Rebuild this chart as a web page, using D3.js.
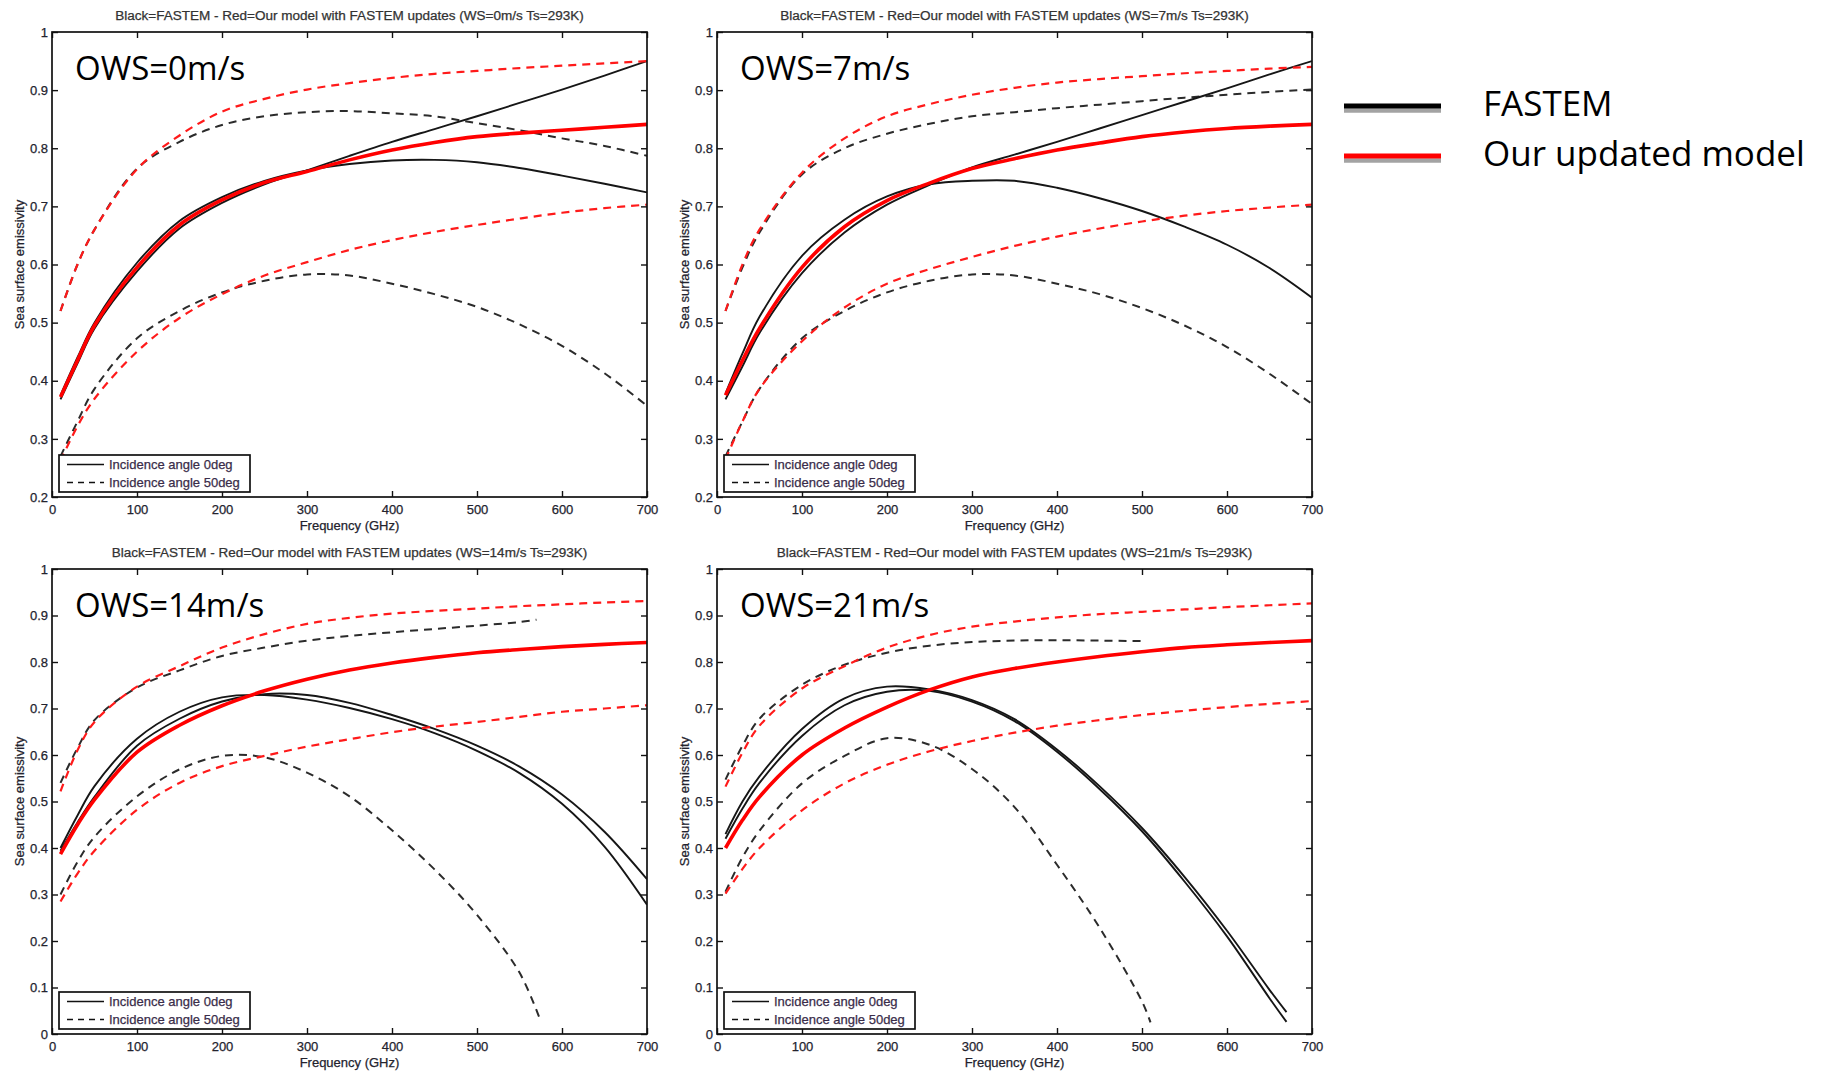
<!DOCTYPE html>
<html>
<head>
<meta charset="utf-8">
<script src="https://cdn.jsdelivr.net/npm/d3@7"></script>
<style>
  body { margin: 0; background: #fff; }
  svg { display: block; }
</style>
</head>
<body>
<svg></svg>
<script>
const size = {w: 1833, h: 1074};
const svg = d3.select('svg');

// frequency grid (GHz) that the curves were read on
const freq = [10, 30, 50, 100, 150, 200, 250, 300, 350, 400, 450, 500, 550, 600, 650, 700];
// some FASTEM curves stop early
const freq14V = [10, 30, 50, 100, 150, 200, 250, 300, 350, 400, 450, 500, 550, 570];
const freq14H = [10, 30, 50, 100, 150, 200, 250, 300, 350, 400, 450, 500, 550, 575];
const freq21S = [10, 30, 50, 100, 150, 200, 250, 300, 350, 400, 450, 500, 550, 600, 650, 670];
const freq21V = [10, 30, 50, 100, 150, 200, 250, 300, 350, 400, 450, 500];
const freq21H = [10, 30, 50, 100, 150, 200, 250, 300, 350, 400, 450, 500, 510];

const xTicks = [0, 100, 200, 300, 400, 500, 600, 700];
const yTicksTop = [0.2, 0.3, 0.4, 0.5, 0.6, 0.7, 0.8, 0.9, 1];
const yTicksBottom = [0, 0.1, 0.2, 0.3, 0.4, 0.5, 0.6, 0.7, 0.8, 0.9, 1];

// WS = 0 m/s
const ws0_fastem0A  = [0.368, 0.430, 0.490, 0.588, 0.662, 0.706, 0.738, 0.762, 0.787, 0.811, 0.833, 0.855, 0.878, 0.901, 0.925, 0.950];
const ws0_fastem0B  = [0.375, 0.440, 0.500, 0.603, 0.675, 0.716, 0.744, 0.762, 0.773, 0.779, 0.780, 0.776, 0.766, 0.753, 0.739, 0.724];
const ws0_model0    = [0.372, 0.435, 0.495, 0.595, 0.668, 0.711, 0.741, 0.760, 0.780, 0.797, 0.810, 0.820, 0.826, 0.831, 0.836, 0.841];
const ws0_fastem50V = [0.520, 0.600, 0.660, 0.765, 0.811, 0.840, 0.855, 0.862, 0.864, 0.860, 0.855, 0.843, 0.831, 0.817, 0.804, 0.787];
const ws0_model50V  = [0.520, 0.600, 0.660, 0.764, 0.822, 0.863, 0.885, 0.901, 0.912, 0.921, 0.928, 0.933, 0.938, 0.942, 0.946, 0.950];
const ws0_fastem50H = [0.270, 0.330, 0.386, 0.473, 0.520, 0.552, 0.572, 0.583, 0.581, 0.567, 0.549, 0.527, 0.497, 0.460, 0.413, 0.357];
const ws0_model50H  = [0.262, 0.322, 0.369, 0.450, 0.508, 0.549, 0.581, 0.604, 0.625, 0.642, 0.656, 0.668, 0.679, 0.689, 0.697, 0.703];

// WS = 7 m/s
const ws7_fastem0A  = [0.368, 0.425, 0.482, 0.585, 0.655, 0.703, 0.737, 0.767, 0.789, 0.811, 0.834, 0.857, 0.880, 0.903, 0.927, 0.950];
const ws7_fastem0B  = [0.378, 0.447, 0.510, 0.615, 0.677, 0.717, 0.738, 0.744, 0.744, 0.732, 0.714, 0.692, 0.665, 0.634, 0.594, 0.543];
const ws7_model0    = [0.375, 0.435, 0.490, 0.595, 0.665, 0.710, 0.740, 0.765, 0.782, 0.797, 0.809, 0.820, 0.828, 0.834, 0.838, 0.841];
const ws7_fastem50V = [0.520, 0.595, 0.655, 0.755, 0.800, 0.825, 0.842, 0.855, 0.862, 0.869, 0.875, 0.881, 0.887, 0.892, 0.897, 0.901];
const ws7_model50V  = [0.520, 0.600, 0.660, 0.758, 0.817, 0.855, 0.876, 0.892, 0.904, 0.913, 0.919, 0.924, 0.929, 0.933, 0.937, 0.940];
const ws7_fastem50H = [0.270, 0.330, 0.386, 0.473, 0.520, 0.552, 0.572, 0.583, 0.581, 0.567, 0.549, 0.525, 0.495, 0.458, 0.412, 0.360];
const ws7_model50H  = [0.265, 0.330, 0.386, 0.468, 0.526, 0.567, 0.592, 0.613, 0.632, 0.648, 0.662, 0.674, 0.684, 0.692, 0.698, 0.703];

// WS = 14 m/s
const ws14_fastem0A  = [0.400, 0.470, 0.533, 0.635, 0.693, 0.724, 0.729, 0.719, 0.701, 0.677, 0.647, 0.609, 0.561, 0.495, 0.403, 0.278];
const ws14_fastem0B  = [0.394, 0.455, 0.510, 0.620, 0.678, 0.715, 0.731, 0.729, 0.712, 0.686, 0.656, 0.620, 0.575, 0.515, 0.435, 0.333];
const ws14_model0    = [0.387, 0.450, 0.504, 0.606, 0.664, 0.706, 0.738, 0.763, 0.783, 0.798, 0.810, 0.820, 0.827, 0.833, 0.838, 0.842];
const ws14_fastem50V = [0.540, 0.615, 0.675, 0.745, 0.782, 0.813, 0.831, 0.846, 0.856, 0.864, 0.871, 0.878, 0.886, 0.891];
const ws14_model50V  = [0.522, 0.610, 0.671, 0.747, 0.791, 0.831, 0.860, 0.882, 0.895, 0.904, 0.910, 0.915, 0.920, 0.924, 0.928, 0.931];
const ws14_fastem50H = [0.300, 0.370, 0.424, 0.511, 0.569, 0.598, 0.595, 0.562, 0.511, 0.438, 0.354, 0.256, 0.132, 0.027];
const ws14_model50H  = [0.285, 0.345, 0.394, 0.482, 0.540, 0.576, 0.598, 0.618, 0.634, 0.649, 0.661, 0.671, 0.682, 0.693, 0.700, 0.707];

// WS = 21 m/s
const ws21_fastem0A  = [0.430, 0.500, 0.554, 0.656, 0.722, 0.747, 0.741, 0.718, 0.677, 0.612, 0.533, 0.443, 0.338, 0.222, 0.095, 0.047];
const ws21_fastem0B  = [0.420, 0.485, 0.540, 0.641, 0.707, 0.736, 0.738, 0.715, 0.673, 0.607, 0.527, 0.436, 0.328, 0.210, 0.077, 0.026];
const ws21_model0    = [0.400, 0.460, 0.510, 0.600, 0.658, 0.703, 0.740, 0.768, 0.786, 0.800, 0.812, 0.822, 0.831, 0.837, 0.842, 0.846];
const ws21_fastem50V = [0.547, 0.620, 0.678, 0.751, 0.794, 0.820, 0.835, 0.843, 0.846, 0.847, 0.846, 0.845];
const ws21_model50V  = [0.532, 0.605, 0.663, 0.743, 0.791, 0.831, 0.858, 0.876, 0.887, 0.896, 0.903, 0.908, 0.913, 0.918, 0.922, 0.926];
const ws21_fastem50H = [0.306, 0.380, 0.437, 0.539, 0.598, 0.636, 0.622, 0.570, 0.488, 0.364, 0.229, 0.070, 0.025];
const ws21_model50H  = [0.302, 0.355, 0.400, 0.481, 0.539, 0.579, 0.608, 0.630, 0.648, 0.663, 0.675, 0.686, 0.695, 0.703, 0.710, 0.716];

const windSpeeds = ['0', '7', '14', '21'];
const legendLabels = ['Incidence angle 0deg', 'Incidence angle 50deg'];
const modelNames = ['FASTEM', 'Our updated model'];

// line styles
const styles = {
    fastemDash:  {stroke: '#2b2b2b', width: 2,   dash: '8,6'},
    fastemSolid: {stroke: '#161616', width: 1.9, dash: null},
    modelDash:   {stroke: '#ff1a1a', width: 2.2, dash: '8,6'},
    modelSolid:  {stroke: '#ff0000', width: 3.6, dash: null}
};

const s = (x, y, kind) => ({x, y, kind});

// panel table built from the arrays above
const panels = [
    {ws: windSpeeds[0], left: 52,  top: 32,  yMin: 0.2, yTicks: yTicksTop, series: [
        s(freq, ws0_fastem50V, 'fastemDash'), s(freq, ws0_fastem50H, 'fastemDash'),
        s(freq, ws0_fastem0A, 'fastemSolid'), s(freq, ws0_fastem0B, 'fastemSolid'),
        s(freq, ws0_model50V, 'modelDash'), s(freq, ws0_model50H, 'modelDash'),
        s(freq, ws0_model0, 'modelSolid')]},
    {ws: windSpeeds[1], left: 717, top: 32,  yMin: 0.2, yTicks: yTicksTop, series: [
        s(freq, ws7_fastem50V, 'fastemDash'), s(freq, ws7_fastem50H, 'fastemDash'),
        s(freq, ws7_fastem0A, 'fastemSolid'), s(freq, ws7_fastem0B, 'fastemSolid'),
        s(freq, ws7_model50V, 'modelDash'), s(freq, ws7_model50H, 'modelDash'),
        s(freq, ws7_model0, 'modelSolid')]},
    {ws: windSpeeds[2], left: 52,  top: 569, yMin: 0,   yTicks: yTicksBottom, series: [
        s(freq14V, ws14_fastem50V, 'fastemDash'), s(freq14H, ws14_fastem50H, 'fastemDash'),
        s(freq, ws14_fastem0A, 'fastemSolid'), s(freq, ws14_fastem0B, 'fastemSolid'),
        s(freq, ws14_model50V, 'modelDash'), s(freq, ws14_model50H, 'modelDash'),
        s(freq, ws14_model0, 'modelSolid')]},
    {ws: windSpeeds[3], left: 717, top: 569, yMin: 0,   yTicks: yTicksBottom, series: [
        s(freq21V, ws21_fastem50V, 'fastemDash'), s(freq21H, ws21_fastem50H, 'fastemDash'),
        s(freq21S, ws21_fastem0A, 'fastemSolid'), s(freq21S, ws21_fastem0B, 'fastemSolid'),
        s(freq, ws21_model50V, 'modelDash'), s(freq, ws21_model50H, 'modelDash'),
        s(freq, ws21_model0, 'modelSolid')]}
];

const pw = 595, ph = 465;
const axisFont = '"Liberation Sans", Arial, sans-serif';
const bigFont = '"Open Sans", "Noto Sans", sans-serif';
const textCol = '#23232e';

svg.attr('width', size.w).attr('height', size.h);

panels.forEach((p, i) => {
    const g = svg.append('g').attr('transform', `translate(${p.left},${p.top})`);

    const x = d3.scaleLinear().domain([0, 700]).range([0, pw]);
    const y = d3.scaleLinear().domain([p.yMin, 1]).range([ph, 0]);

    const yFmt = d => (d === 0 || d === 1) ? String(d) : d3.format('.1f')(d);

    // axes, MATLAB style: ticks pointing inward on all four sides
    const axB = g.append('g').attr('transform', `translate(0,${ph})`)
        .call(d3.axisBottom(x).tickValues(xTicks).tickSize(-6).tickSizeOuter(0).tickPadding(8));
    const axT = g.append('g')
        .call(d3.axisTop(x).tickValues(xTicks).tickSize(-6).tickSizeOuter(0).tickFormat(''));
    const axL = g.append('g')
        .call(d3.axisLeft(y).tickValues(p.yTicks).tickSize(-6).tickSizeOuter(0).tickPadding(4).tickFormat(yFmt));
    const axR = g.append('g').attr('transform', `translate(${pw},0)`)
        .call(d3.axisRight(y).tickValues(p.yTicks).tickSize(-6).tickSizeOuter(0).tickFormat(''));

    [axB, axT, axL, axR].forEach(a => {
        a.select('.domain').remove();
        a.selectAll('line').attr('stroke', '#111').attr('stroke-width', 1.4);
        a.selectAll('text').attr('font-family', axisFont).attr('font-size', 13)
            .attr('fill', textCol).attr('stroke', textCol).attr('stroke-width', 0.25);
    });

    // clip the curves to the frame
    const clipId = 'clip' + i;
    g.append('clipPath').attr('id', clipId)
        .append('rect').attr('width', pw).attr('height', ph);

    const line = d3.line()
        .x(d => x(d[0]))
        .y(d => y(d[1]))
        .curve(d3.curveCatmullRom.alpha(0.5));

    const curvesG = g.append('g').attr('clip-path', `url(#${clipId})`);
    curvesG.selectAll('path')
        .data(p.series)
        .join('path')
        .attr('d', d => line(d.x.map((f, k) => [f, d.y[k]])))
        .attr('fill', 'none')
        .attr('stroke', d => styles[d.kind].stroke)
        .attr('stroke-width', d => styles[d.kind].width)
        .attr('stroke-dasharray', d => styles[d.kind].dash)
        .attr('stroke-linejoin', 'round');

    // frame
    g.append('rect')
        .attr('width', pw).attr('height', ph)
        .attr('fill', 'none').attr('stroke', '#111').attr('stroke-width', 1.7);

    // title
    const title = `Black=FASTEM - Red=Our model with FASTEM updates (WS=${p.ws}m/s Ts=293K)`;
    g.append('text')
        .attr('x', pw / 2).attr('y', -12.5)
        .attr('text-anchor', 'middle')
        .attr('font-family', axisFont).attr('font-size', 12.5)
        .attr('fill', '#333').attr('stroke', '#333').attr('stroke-width', 0.25)
        .attr('textLength', title.length * 7.1)
        .attr('lengthAdjust', 'spacingAndGlyphs')
        .text(title);

    // axis labels
    g.append('text')
        .attr('x', pw / 2).attr('y', ph + 33)
        .attr('text-anchor', 'middle')
        .attr('font-family', axisFont).attr('font-size', 13)
        .attr('fill', textCol).attr('stroke', textCol).attr('stroke-width', 0.25)
        .text('Frequency (GHz)');
    g.append('text')
        .attr('transform', `translate(-28.5,${ph / 2}) rotate(-90)`)
        .attr('text-anchor', 'middle')
        .attr('font-family', axisFont).attr('font-size', 13)
        .attr('fill', textCol).attr('stroke', textCol).attr('stroke-width', 0.25)
        .text('Sea surface emissivity');

    // wind speed label
    g.append('text')
        .attr('x', 23).attr('y', 47.5)
        .attr('font-family', bigFont).attr('font-size', 33).attr('fill', '#000')
        .text(`OWS=${p.ws}m/s`);

    // small legend box in the lower left
    const lg = g.append('g').attr('transform', `translate(7,${ph - 42})`);
    lg.append('rect')
        .attr('width', 191).attr('height', 37)
        .attr('fill', '#fff').attr('stroke', '#111').attr('stroke-width', 1.7);
    legendLabels.forEach((lab, k) => {
        const ly = 9.5 + k * 18;
        lg.append('line')
            .attr('x1', 8).attr('x2', 45).attr('y1', ly).attr('y2', ly)
            .attr('stroke', '#111').attr('stroke-width', 1.6)
            .attr('stroke-dasharray', k === 0 ? null : '6,5');
        lg.append('text')
            .attr('x', 50).attr('y', ly + 4.5)
            .attr('font-family', axisFont).attr('font-size', 13)
            .attr('fill', '#3a2d4a').attr('stroke', '#3a2d4a').attr('stroke-width', 0.25)
            .text(lab);
    });
});

// outer legend on the right
const legendColors = ['#000', '#ff0000'];
const outer = svg.append('g');
modelNames.forEach((name, k) => {
    const ly = 106 + k * 50;
    outer.append('line')
        .attr('x1', 1344).attr('x2', 1441).attr('y1', ly + 4.5).attr('y2', ly + 4.5)
        .attr('stroke', '#a3a3a3').attr('stroke-width', 4.5);
    outer.append('line')
        .attr('x1', 1344).attr('x2', 1441).attr('y1', ly).attr('y2', ly)
        .attr('stroke', legendColors[k]).attr('stroke-width', 5);
    outer.append('text')
        .attr('x', 1483).attr('y', ly + 9.5)
        .attr('font-family', bigFont).attr('font-size', 35).attr('fill', '#000')
        .text(name);
});
</script>
</body>
</html>
